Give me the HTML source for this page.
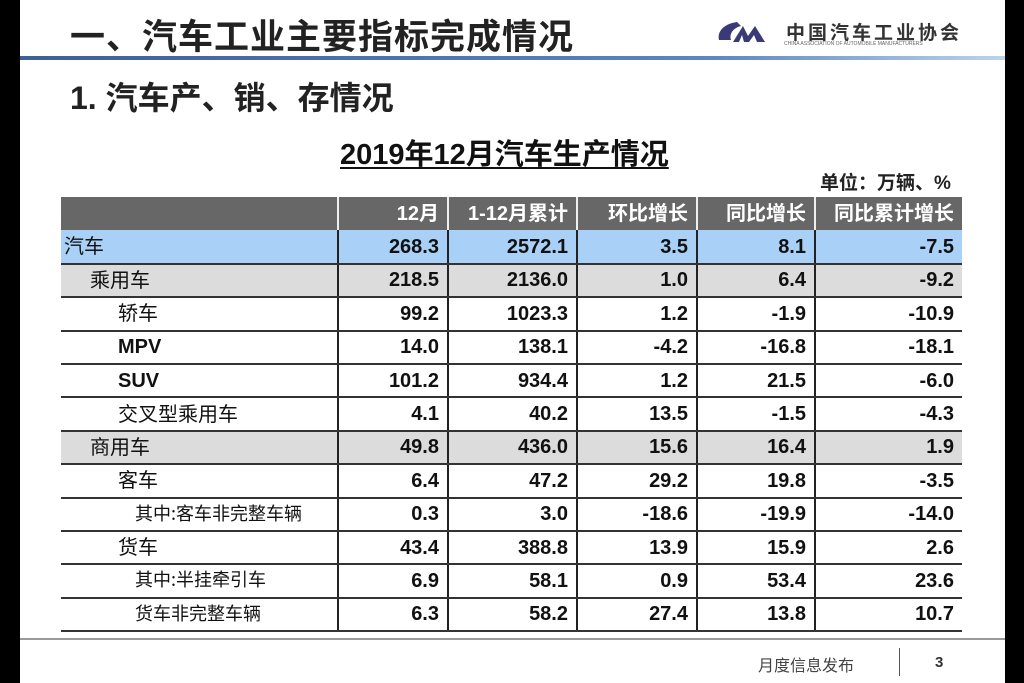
<!DOCTYPE html>
<html><head><meta charset="utf-8"><style>
body{margin:0;width:1024px;height:683px;background:#000;position:relative;overflow:hidden;font-family:"Liberation Sans","Noto Sans CJK SC",sans-serif;}
#pg{position:absolute;left:20px;top:0;width:985px;height:683px;background:#fff;}
.a{position:absolute;white-space:nowrap;}
table{position:absolute;left:41px;top:197px;border-collapse:collapse;}
td{height:33.4px;padding:0 8px 0 0;font-size:20px;line-height:20px;font-weight:bold;text-align:right;vertical-align:middle;border-bottom:2px solid #333;border-left:2px solid #222;color:#111;box-sizing:border-box;}
td:first-child{text-align:left;font-weight:normal;border-left:none;padding:0 0 3px 3px;font-family:"Noto Sans CJK SC",sans-serif;}
td.l1{padding-left:29px}
td.l2{padding-left:57px}
td.l3{padding-left:74px;font-size:18px}
td.e{font-weight:bold;font-family:"Liberation Sans",sans-serif;padding-bottom:0;padding-left:57px}
tr.h td{background:#676767;color:#fff;font-weight:bold;border-left:2px solid #eee;border-bottom:none;font-family:"Liberation Sans","Noto Sans CJK SC",sans-serif;}
tr.h td:first-child{border-left:none;}
tr.b td{background:#a9d1f7;}
tr.g td{background:#dcdcdc;}
</style></head><body><div id="pg">
<div class="a" style="left:50px;top:9px;font-size:35px;font-weight:bold;color:#222;letter-spacing:1px;">一、汽车工业主要指标完成情况</div>
<svg class="a" style="left:695px;top:18px" width="60" height="28"><path d="M22 4 C8 6 2 14 4 22 L16 22 C14 16 18 10 26 8 Z" fill="#3a3a78"/><path d="M18 24 L28 8 L33 18 L40 8 L50 24 L42 24 L39 17 L34 24 L29 24 L27 17 L24 24Z" fill="#3a3a78"/></svg>
<div class="a" style="left:766px;top:18px;font-size:19px;font-weight:bold;color:#333;letter-spacing:3px;">中国汽车工业协会</div>
<div class="a" style="left:764px;top:41px;font-size:5px;color:#666;">CHINA ASSOCIATION OF AUTOMOBILE MANUFACTURERS</div>
<div class="a" style="left:0;top:56px;width:985px;height:4px;background:linear-gradient(90deg,#3d5f95,#5b86c0 70%,#bcd3ec);"></div>
<div class="a" style="left:50px;top:73px;font-size:32px;font-weight:bold;color:#222;">1. 汽车产、销、存情况</div>
<div class="a" style="left:320px;top:131px;font-size:29px;font-weight:bold;color:#111;text-decoration:underline;text-underline-offset:3px;">2019年12月汽车生产情况</div>
<div class="a" style="left:800px;top:168px;font-size:19px;font-weight:bold;color:#222;">单位：万辆、%</div>
<table>
<tr class="h"><td style="width:277px"></td><td style="width:110px">12月</td><td style="width:129px">1-12月累计</td><td style="width:120px">环比增长</td><td style="width:118px">同比增长</td><td style="width:147px">同比累计增长</td></tr>
<tr class="b"><td>汽车</td><td>268.3</td><td>2572.1</td><td>3.5</td><td>8.1</td><td>-7.5</td></tr>
<tr class="g"><td class="l1">乘用车</td><td>218.5</td><td>2136.0</td><td>1.0</td><td>6.4</td><td>-9.2</td></tr>
<tr><td class="l2">轿车</td><td>99.2</td><td>1023.3</td><td>1.2</td><td>-1.9</td><td>-10.9</td></tr>
<tr><td class="e">MPV</td><td>14.0</td><td>138.1</td><td>-4.2</td><td>-16.8</td><td>-18.1</td></tr>
<tr><td class="e">SUV</td><td>101.2</td><td>934.4</td><td>1.2</td><td>21.5</td><td>-6.0</td></tr>
<tr><td class="l2">交叉型乘用车</td><td>4.1</td><td>40.2</td><td>13.5</td><td>-1.5</td><td>-4.3</td></tr>
<tr class="g"><td class="l1">商用车</td><td>49.8</td><td>436.0</td><td>15.6</td><td>16.4</td><td>1.9</td></tr>
<tr><td class="l2">客车</td><td>6.4</td><td>47.2</td><td>29.2</td><td>19.8</td><td>-3.5</td></tr>
<tr><td class="l3">其中:客车非完整车辆</td><td>0.3</td><td>3.0</td><td>-18.6</td><td>-19.9</td><td>-14.0</td></tr>
<tr><td class="l2">货车</td><td>43.4</td><td>388.8</td><td>13.9</td><td>15.9</td><td>2.6</td></tr>
<tr><td class="l3">其中:半挂牵引车</td><td>6.9</td><td>58.1</td><td>0.9</td><td>53.4</td><td>23.6</td></tr>
<tr><td class="l3">货车非完整车辆</td><td>6.3</td><td>58.2</td><td>27.4</td><td>13.8</td><td>10.7</td></tr>
</table>
<div class="a" style="left:0;top:638px;width:985px;height:2px;background:#999;"></div>
<div class="a" style="left:738px;top:652px;font-size:16px;color:#444;">月度信息发布</div>
<div class="a" style="left:879px;top:648px;width:1px;height:28px;background:#555;"></div>
<div class="a" style="left:915px;top:654px;font-size:15px;font-weight:bold;color:#333;">3</div>
</div></body></html>
